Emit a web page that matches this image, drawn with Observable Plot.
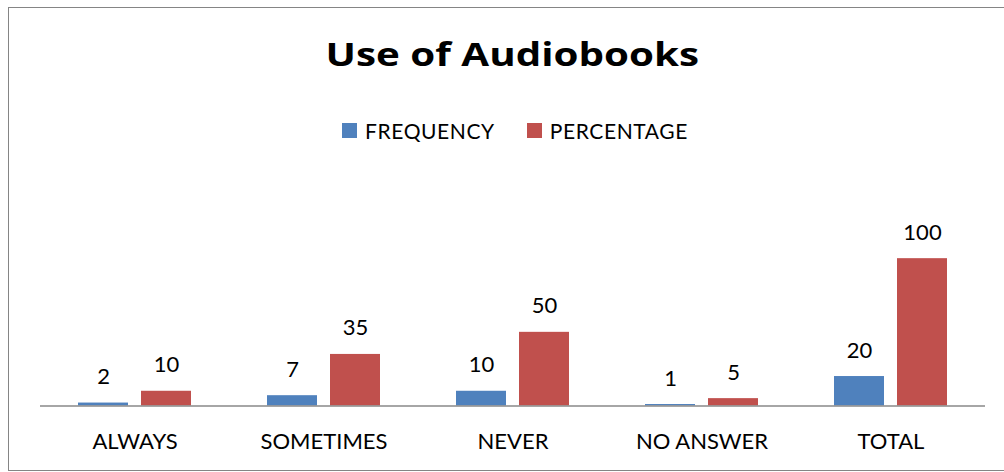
<!DOCTYPE html>
<html>
<head>
<meta charset="utf-8">
<script src="https://cdn.jsdelivr.net/npm/d3@7"></script>
<script src="https://cdn.jsdelivr.net/npm/@observablehq/plot@0.6"></script>
<style>
  html, body { margin: 0; padding: 0; background: #fff; }
  #wrap { position: relative; width: 1004px; height: 472px; overflow: hidden; font-family: Lato, sans-serif; }
  #border { position: absolute; left: 8px; top: 7px; width: 1010px; height: 462px; border: 1px solid #858585; }
  #title { position: absolute; left: 0; top: 38.3px; width: 1024px; text-align: center; font-family: "Open Sans", sans-serif; font-size: 32px; font-weight: bold; line-height: 1; color: #000; }
  #title span { display: inline-block; transform: scaleX(1.26); transform-origin: center; }
  #legend { position: absolute; left: 342px; top: 119.7px; display: flex; align-items: center; font-size: 21px; letter-spacing: 0.6px; line-height: 1; color: #000; }
  .sw { width: 15px; height: 15px; display: inline-block; margin-right: 8px; }
  .item { display: flex; align-items: center; margin-right: 32px; }
  #chart { position: absolute; left: 0; top: 0; }
</style>
</head>
<body>
<div id="wrap">
  <div id="border"></div>
  <div id="title"><span>Use of Audiobooks</span></div>
  <div id="legend"></div>
  <div id="chart"></div>
</div>
<script>
const categories = ["ALWAYS", "SOMETIMES", "NEVER", "NO ANSWER", "TOTAL"];
const series = ["FREQUENCY", "PERCENTAGE"];
const frequency = [2, 7, 10, 1, 20];
const percentage = [10, 35, 50, 5, 100];
const colors = ["#4F81BD", "#C0504D"];

const rows = categories.flatMap((c, i) => [
  {category: c, series: series[0], value: frequency[i]},
  {category: c, series: series[1], value: percentage[i]}
]);

const legend = document.getElementById("legend");
series.forEach((s, i) => {
  const item = document.createElement("div");
  item.className = "item";
  const sw = document.createElement("span");
  sw.className = "sw";
  sw.style.background = colors[i];
  const t = document.createElement("span");
  t.textContent = s;
  item.appendChild(sw);
  item.appendChild(t);
  legend.appendChild(item);
});

const chart = Plot.plot({
  width: 1004,
  height: 472,
  marginLeft: 39,
  marginRight: 19,
  marginTop: 228.7,
  marginBottom: 66.5,
  style: {fontFamily: "Lato, sans-serif", fontSize: "22px", color: "#000", background: "transparent"},
  fx: {domain: categories, padding: 0, label: null},
  x: {domain: series, paddingInner: 0.2, paddingOuter: 0.6, axis: null},
  y: {domain: [0, 120], axis: null},
  color: {domain: series, range: colors},
  marks: [
    Plot.barY(rows, {fx: "category", x: "series", y: "value", fill: "series"}),
    Plot.ruleY([0], {stroke: "#888", strokeWidth: 1.5}),
    Plot.text(rows, {fx: "category", x: "series", y: "value", text: d => String(d.value), lineAnchor: "bottom", dy: -19, fontSize: 22, fill: "#000"}),
    Plot.axisFx({anchor: "bottom", tickSize: 0, tickPadding: 27, fontSize: 22, label: null})
  ]
});
document.getElementById("chart").appendChild(chart);
</script>
</body>
</html>
